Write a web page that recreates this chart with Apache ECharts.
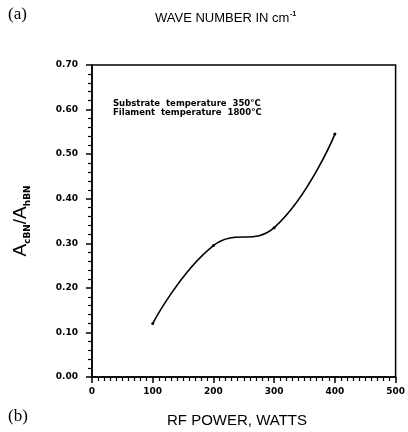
<!DOCTYPE html>
<html><head><meta charset="utf-8">
<script src="https://cdn.jsdelivr.net/npm/echarts@6/dist/echarts.min.js"></script>
<style>html,body{margin:0;padding:0;background:#fff}#c{width:408px;height:432px}</style>
</head><body><div id="c"></div>
<script>
const rfPower = [100, 200, 300, 400];
const ratio = [0.12, 0.295, 0.335, 0.545];
const xTicks = [0, 100, 200, 300, 400, 500];
const yTicks = [0.0, 0.1, 0.2, 0.3, 0.4, 0.5, 0.6, 0.7];
const annotation = ['Substrate  temperature  350°C', 'Filament  temperature  1800°C'];

const chart = echarts.init(document.getElementById('c'));
const font = 'Liberation Sans, Arial, sans-serif';
const dj = '"DejaVu Sans", sans-serif';
chart.setOption({
  animation: false,
  backgroundColor: '#fff',
  grid: { left: 92, top: 65, right: 6, bottom: 55, show: true, borderColor: '#000', borderWidth: 1.5, backgroundColor: 'transparent' },
  xAxis: {
    type: 'value', min: xTicks[0], max: xTicks[xTicks.length - 1], interval: 100,
    axisLine: { lineStyle: { color: '#000', width: 1.5 } },
    axisTick: { inside: false, length: 6, lineStyle: { color: '#000', width: 1.5 } },
    minorTick: { show: true, splitNumber: 10, length: 4, lineStyle: { color: '#000', width: 1.2 } },
    splitLine: { show: false },
    axisLabel: { color: '#000', fontFamily: dj, fontWeight: 'bold', fontSize: 9, margin: 10 }
  },
  yAxis: {
    type: 'value', min: yTicks[0], max: yTicks[yTicks.length - 1], interval: 0.1,
    axisLine: { lineStyle: { color: '#000', width: 1.5 } },
    axisTick: { inside: false, length: 6, lineStyle: { color: '#000', width: 1.5 } },
    minorTick: { show: true, splitNumber: 5, length: 4, lineStyle: { color: '#000', width: 1.2 } },
    splitLine: { show: false },
    axisLabel: { color: '#000', fontFamily: dj, fontWeight: 'bold', fontSize: 9, margin: 14, formatter: v => v.toFixed(2) },
    name: '{a|A}{s|cBN}{a|/A}{s|hBN}',
    nameLocation: 'middle', nameRotate: 90, nameGap: 60,
    nameTextStyle: {
      color: '#000',
      rich: {
        a: { fontFamily: font, fontSize: 19, color: '#000', lineHeight: 22, verticalAlign: 'middle' },
        s: { fontFamily: dj, fontSize: 9, fontWeight: 'bold', color: '#000', lineHeight: 22, verticalAlign: 'bottom', padding: [8, 0, 0, 0] }
      }
    }
  },
  series: [{
    type: 'line', smooth: 0.45,
    data: rfPower.map((x, i) => [x, ratio[i]]),
    symbol: 'circle', symbolSize: 3,
    itemStyle: { color: '#000' },
    lineStyle: { color: '#000', width: 1.6 }
  }],
  graphic: [
    { type: 'text', left: 8, top: 6, style: { text: '(a)', font: '17px "Liberation Serif", serif', fill: '#000' } },
    { type: 'text', left: 8, top: 408, style: { text: '(b)', font: '17px "Liberation Serif", serif', fill: '#000' } },
    { type: 'text', left: 155, top: 12, style: { text: 'WAVE NUMBER IN cm', font: '13px ' + font, fill: '#000' } },
    { type: 'text', left: 290, top: 11, style: { text: '-1', font: 'bold 7px ' + font, fill: '#000' } },
    { type: 'text', left: 167, top: 413, style: { text: 'RF POWER, WATTS', font: '15px ' + font, fill: '#000' } },
    { type: 'text', left: 113, top: 99, style: { text: annotation.join('\n'), font: 'bold 8.5px ' + dj, lineHeight: 9, fill: '#000' } }
  ]
});
</script></body></html>
